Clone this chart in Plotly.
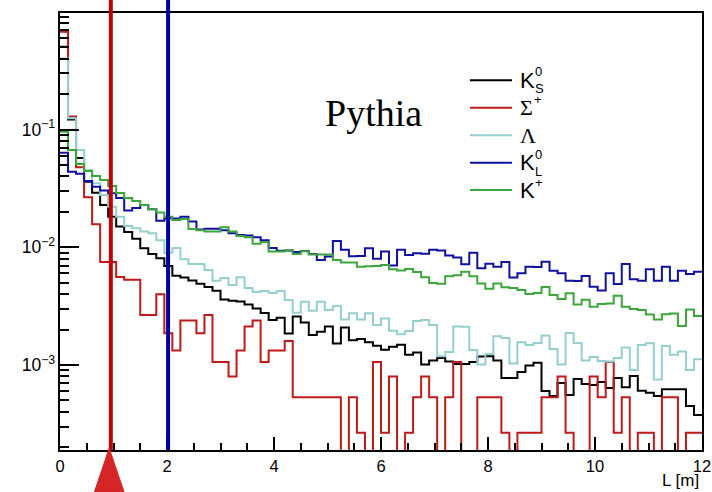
import numpy as np
import plotly.graph_objects as go

# ---------------- data (normalised decay-length distributions) ----------------
L_MIN, L_MAX, N_BINS = 0.0, 12.0, 80          # L [m] binning, 0.15 m bins
Y_LOG_RANGE = [-3.722, -0.009]                  # visible log10 range of the y axis

KS0 = [0.506, 0.122, 0.0574, 0.0361, 0.0291, 0.0229, 0.0182, 0.0150, 0.0135, 0.0118,
       0.00981, 0.00877, 0.00806, 0.00694, 0.00573, 0.00554, 0.00522, 0.0049, 0.0046, 0.00427,
       0.00361, 0.00352, 0.00346, 0.00327, 0.00302, 0.00277, 0.00241, 0.00252, 0.00185, 0.00259,
       0.0023, 0.0018, 0.00192, 0.00213, 0.00152, 0.00208, 0.00162, 0.00166, 0.00156, 0.00146,
       0.00135, 0.00143, 0.00149, 0.00122, 0.00128, 0.00101, 0.00109, 0.00115, 0.00107, 0.00102,
       0.00102, 0.00106, 0.00118, 0.00119, 0.00109, 0.000775, 0.000775, 0.000872, 0.00099, 0.001045,
       0.000601, 0.000545, 0.000703, 0.000556, 0.00076, 0.00069, 0.000676, 0.000717, 0.000638, 0.000775,
       0.000646, 0.000806, 0.000605, 0.000582, 0.000545, 0.000622, 0.000622, 0.000622, 0.000448, 0.000376]

SIGMA_PLUS = [0.68, 0.129, 0.048, 0.0266, 0.0157, 0.0075, 0.0075, 0.0056, 0.0053, 0.0053,
              0.00266, 0.00266, 0.00399, 0.00186, 0.00133, 0.00239, 0.00239, 0.00186, 0.00266, 0.00106,
              0.00106, 0.000798, 0.00133, 0.00213, 0.00239, 0.00106, 0.00133, 0.00133, 0.0016, 0.000532,
              0.000532, 0.000532, 0.000532, 0.000532, 0.000532, 0, 0.000532, 0.000266, 0, 0.00106,
              0.000266, 0.000798, 0, 0.000266, 0.000532, 0.000798, 0.000532, 0, 0.000532, 0.00106,
              0, 0, 0.000532, 0.000532, 0.000532, 0.000266, 0, 0.000266, 0.000266, 0.000266,
              0.000532, 0.000532, 0.000798, 0.000266, 0, 0, 0.000798, 0.000532, 0.00106, 0.000266,
              0.000532, 0, 0.000266, 0.000266, 0, 0.000532, 0.000532, 0, 0.000266, 0.000266]

LAMBDA = [0.403, 0.125, 0.0671, 0.0454, 0.035, 0.0278, 0.0221, 0.0182, 0.0152, 0.0145,
          0.0136, 0.0132, 0.0115, 0.0090, 0.00986, 0.00791, 0.00721, 0.00721, 0.00641, 0.0052,
          0.00548, 0.00478, 0.00557, 0.00451, 0.00417, 0.00425, 0.00409, 0.00425, 0.00357, 0.00278,
          0.00345, 0.00289, 0.00345, 0.00293, 0.00317, 0.00244, 0.00275, 0.00244, 0.00275, 0.00219,
          0.00249, 0.00196, 0.00183, 0.00195, 0.00237, 0.00241, 0.00219, 0.00119, 0.00129, 0.00212,
          0.00211, 0.00134, 0.00101, 0.00124, 0.00176, 0.0017, 0.00103, 0.00156, 0.00148, 0.00154,
          0.00178, 0.00137, 0.00101, 0.00187, 0.00154, 0.00109, 0.00117, 0.00108, 0.00107, 0.00115,
          0.00141, 0.000907, 0.00148, 0.00153, 0.000755, 0.00145, 0.00122, 0.0013, 0.000907, 0.00112]

KL0 = [0.0637, 0.0439, 0.0422, 0.0366, 0.0327, 0.0304, 0.0288, 0.0262, 0.0206, 0.0216,
       0.0229, 0.0211, 0.0168, 0.0177, 0.0176, 0.0182, 0.0166, 0.0142, 0.0144, 0.0144,
       0.0140, 0.0132, 0.0127, 0.0126, 0.0122, 0.0115, 0.00986, 0.00936, 0.0094, 0.00912,
       0.0093, 0.00877, 0.0078, 0.00835, 0.0113, 0.00956, 0.00839, 0.00844, 0.00981, 0.00798,
       0.0092, 0.0070, 0.00956, 0.0086, 0.00889, 0.0088, 0.00956, 0.0094, 0.00852, 0.00819,
       0.00717, 0.0090, 0.00663, 0.00724, 0.00684, 0.0075, 0.00554, 0.00601, 0.00684, 0.0068,
       0.00753, 0.00633, 0.00601, 0.00519, 0.00517, 0.0057, 0.00463, 0.0043, 0.00601, 0.00488,
       0.00721, 0.00535, 0.0052, 0.0065, 0.0052, 0.00684, 0.0052, 0.00633, 0.00593, 0.0062]

KPLUS = [0.096, 0.0671, 0.051, 0.0445, 0.0403, 0.0373, 0.0332, 0.0289, 0.0262, 0.0247,
         0.0229, 0.0211, 0.0198, 0.0182, 0.0171, 0.0174, 0.0143, 0.0140, 0.0136, 0.0136,
         0.0148, 0.0136, 0.0125, 0.0122, 0.0107, 0.0111, 0.0092, 0.0092, 0.0094, 0.00877,
         0.00925, 0.00867, 0.00867, 0.00867, 0.0078, 0.00743, 0.00743, 0.00684, 0.00689, 0.00694,
         0.00707, 0.0065, 0.00635, 0.00654, 0.00617, 0.00557, 0.00497, 0.0049, 0.00567, 0.00578,
         0.0062, 0.00567, 0.00493, 0.00444, 0.00494, 0.00457, 0.00451, 0.00434, 0.00401, 0.0041,
         0.0046, 0.00393, 0.00364, 0.00407, 0.00327, 0.00359, 0.00313, 0.0033, 0.00333, 0.00387,
         0.00312, 0.00299, 0.00293, 0.00269, 0.00244, 0.0027, 0.00274, 0.00215, 0.00296, 0.00261]

CUT_RED = 0.95      # m, red vertical line
CUT_BLUE = 2.02     # m, blue vertical line
ARROW_L = 0.92      # m, red triangle marker under the axis

# legend entries: (main symbol, superscript, subscript, font family)
SERIES = [
    ("KS0",   KS0,        "#000000", ("K", "0", "S", "Liberation Sans")),
    ("Sigma", SIGMA_PLUS, "#c01a1a", ("Σ", "+", "",  "Liberation Serif")),
    ("Lambda", LAMBDA,    "#96cfcf", ("Λ", "",  "",  "Liberation Serif")),
    ("KL0",   KL0,        "#1010a2", ("K", "0", "L", "Liberation Sans")),
    ("Kplus", KPLUS,      "#3ca53c", ("K", "+", "",  "Liberation Sans")),
]

# ---------------- figure ----------------
edges = np.linspace(L_MIN, L_MAX, N_BINS + 1)
FLOOR = 1e-9   # empty bins drop to the bottom of the frame (as in ROOT log plots)

fig = go.Figure()
for name, vals, color, _ in SERIES:
    y = [v if v > 0 else FLOOR for v in vals]
    fig.add_trace(go.Scatter(
        x=edges, y=y + [y[-1]], mode="lines", name=name,
        line=dict(color=color, width=2, shape="hv"), showlegend=False,
        hoverinfo="skip"))

shapes = [
    dict(type="line", xref="x", yref="paper", x0=CUT_RED, x1=CUT_RED, y0=0, y1=1.04,
         line=dict(color="#c00000", width=4)),
    dict(type="line", xref="x", yref="paper", x0=CUT_BLUE, x1=CUT_BLUE, y0=0, y1=1.04,
         line=dict(color="#0000a0", width=4)),
    dict(type="path", xref="x", yref="paper",
         path=f"M {ARROW_L-0.28},-0.097 L {ARROW_L+0.28},-0.097 L {ARROW_L},0.004 Z",
         fillcolor="#d42626", line=dict(color="#d42626", width=1)),
]

annotations = [
    dict(text="Pythia", xref="paper", yref="paper", x=0.489, y=0.771,
         xanchor="center", yanchor="middle", showarrow=False,
         font=dict(family="Liberation Serif", size=38, color="black")),
    dict(text="L [m]", xref="paper", yref="paper", x=0.998, y=-0.07,
         xanchor="right", yanchor="middle", showarrow=False,
         font=dict(family="Liberation Sans", size=17, color="black")),
]

leg_y0, leg_dy = 0.846, 0.0628
line_x0, line_x1, text_x = 0.6386, 0.704, 0.7165
for i, (name, vals, color, (main, sup, sub, fam)) in enumerate(SERIES):
    yc = leg_y0 - i * leg_dy
    shapes.append(dict(type="line", xref="paper", yref="paper", x0=line_x0, x1=line_x1,
                       y0=yc, y1=yc, line=dict(color=color, width=2)))
    annotations.append(dict(text=main, xref="paper", yref="paper", x=text_x, y=yc,
                            xanchor="left", yanchor="middle", showarrow=False,
                            borderpad=0, borderwidth=0,
                            font=dict(family=fam, size=22, color="black")))
    shift = 15 if main == "K" else 14
    if sup and sub:
        # stacked super-/subscript as two lines of one small text
        annotations.append(dict(text=f"{sup}<br>{sub}", xref="paper", yref="paper",
                                x=text_x, y=yc, xanchor="left", yanchor="middle",
                                align="left", showarrow=False, xshift=shift, yshift=0,
                                borderpad=0, borderwidth=0,
                                font=dict(family="Liberation Sans", size=13, color="black")))
    elif sup:
        annotations.append(dict(text=sup, xref="paper", yref="paper", x=text_x, y=yc,
                                xanchor="left", yanchor="middle", showarrow=False,
                                xshift=shift, yshift=8, borderpad=0, borderwidth=0,
                                font=dict(family="Liberation Sans", size=13, color="black")))

fig.update_layout(
    width=712, height=492,
    margin=dict(l=60, r=10, t=13, b=42, autoexpand=False),
    paper_bgcolor="white", plot_bgcolor="white",
    font=dict(family="Liberation Sans, Arial, sans-serif", color="black", size=15),
    showlegend=False, shapes=shapes, annotations=annotations,
)
fig.update_xaxes(
    range=[L_MIN, L_MAX], showline=True, linecolor="black", linewidth=2, mirror=True,
    ticks="inside", ticklen=13, tickwidth=1.8, tickcolor="black", tick0=0, dtick=2,
    minor=dict(dtick=0.5, ticks="inside", ticklen=7, tickwidth=1.8, tickcolor="black"),
    showgrid=False, zeroline=False, tickfont=dict(size=16.5, color="black"),
    automargin=False,
)
fig.update_yaxes(
    type="log", range=Y_LOG_RANGE, showline=True, linecolor="black", linewidth=2, mirror=True,
    ticks="inside", ticklen=19, tickwidth=1.8, tickcolor="black", dtick=1,
    exponentformat="power",
    minor=dict(dtick="D1", ticks="inside", ticklen=9, tickwidth=1.8, tickcolor="black"),
    showgrid=False, zeroline=False, tickfont=dict(size=14, color="black"),
    automargin=False,
)

fig.write_html("out.html")
